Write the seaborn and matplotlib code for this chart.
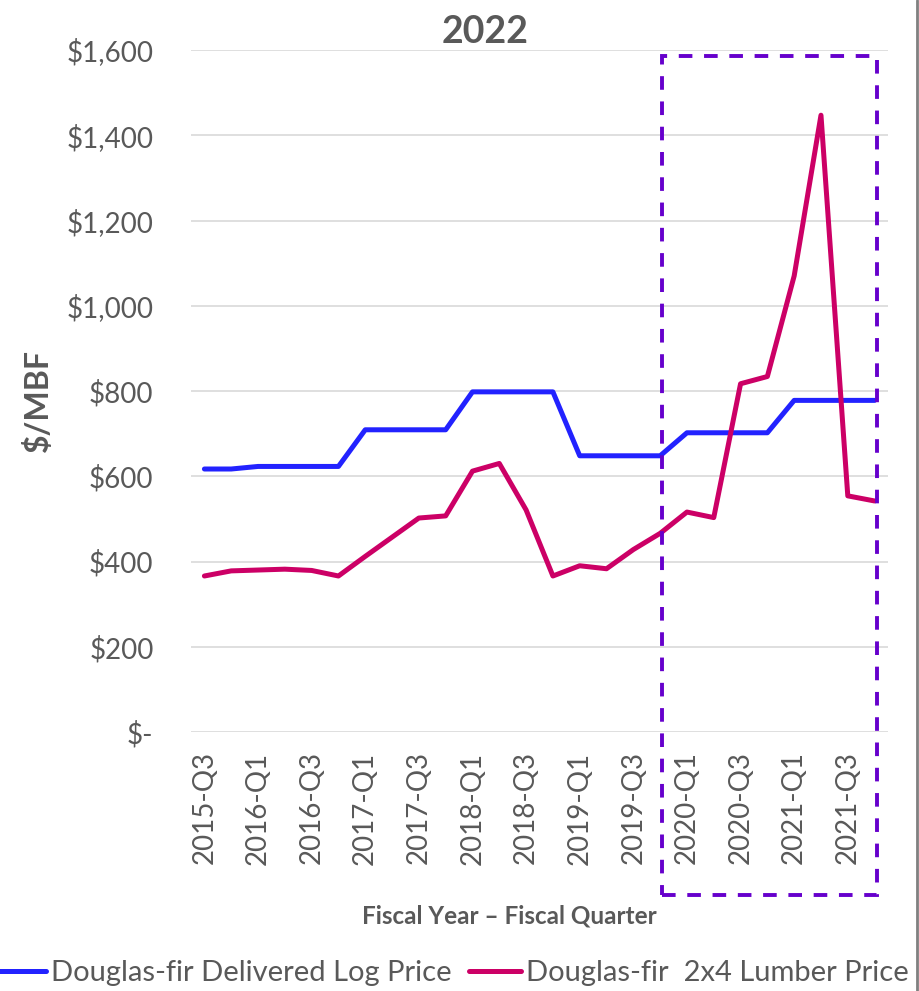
import matplotlib
matplotlib.use("Agg")
import matplotlib.pyplot as plt
import seaborn as sns
import pandas as pd
import numpy as np
from matplotlib.ticker import FuncFormatter
from matplotlib.patches import Rectangle
from matplotlib.lines import Line2D

quarters = ["2015-Q3", "2015-Q4", "2016-Q1", "2016-Q2", "2016-Q3", "2016-Q4",
            "2017-Q1", "2017-Q2", "2017-Q3", "2017-Q4", "2018-Q1", "2018-Q2",
            "2018-Q3", "2018-Q4", "2019-Q1", "2019-Q2", "2019-Q3", "2019-Q4",
            "2020-Q1", "2020-Q2", "2020-Q3", "2020-Q4", "2021-Q1", "2021-Q2",
            "2021-Q3", "2021-Q4"]
log_price = [617, 617, 623, 623, 623, 623, 709, 709, 709, 709, 798, 798, 798, 798,
             648, 648, 648, 648, 702, 702, 702, 702, 778, 778, 778, 778]
lumber_price = [366, 378, 380, 382, 379, 366, 412, 457, 502, 507, 612, 630, 521, 366,
                390, 383, 428, 466, 516, 503, 817, 834, 1070, 1447, 554, 542]
series_names = ["Douglas-fir Delivered Log Price", "Douglas-fir  2x4 Lumber Price"]
colors = ["#2222FF", "#CC0066"]

df = pd.DataFrame({
    "idx": list(range(len(quarters))) * 2,
    "value": log_price + lumber_price,
    "series": [series_names[0]] * len(quarters) + [series_names[1]] * len(quarters),
})

sns.set_theme(style="white")
plt.rcParams['font.family'] = ['Lato', 'DejaVu Sans']
txt = "#595959"

fig = plt.figure(figsize=(9.19, 9.91), dpi=100)
ax = fig.add_axes([191/919, 1-732/991, (888-191)/919, (732-50)/991])

sns.lineplot(data=df, x="idx", y="value", hue="series", palette=colors,
             linewidth=3.6, ax=ax, legend=False, sort=False)

ax.set_ylim(0, 1600)
ax.set_xlim(-0.5, len(quarters) - 0.5)
ax.set_yticks(np.arange(0, 1601, 200))
ax.yaxis.set_major_formatter(FuncFormatter(lambda v, p: "$-" if v == 0 else f"${v:,.0f}"))
ax.set_xticks(range(0, len(quarters), 2))
ax.set_xticklabels(quarters[::2], rotation=90)
ax.tick_params(axis="both", length=0, labelsize=20, colors=txt)
ax.tick_params(axis="y", pad=27)
ax.tick_params(axis="x", pad=14)
ax.grid(axis="y", color="#D9D9D9", linewidth=1.2)
ax.set_axisbelow(True)
for s in ax.spines.values():
    s.set_visible(False)

ax.set_ylabel("$/MBF", fontsize=23, fontweight="bold", color=txt)
ax.yaxis.set_label_coords((53-191)/697, (732-401)/682)
ax.set_xlabel("")
fig.text(509/919, 1-916/991, "Fiscal Year \u2013 Fiscal Quarter", ha="center", va="center",
         fontsize=17.5, fontweight="bold", color=txt)
fig.text(485/919, 1-32/991, "2022", ha="center", va="center",
         fontsize=27, fontweight="bold", color=txt)

# dashed highlight box
rect = Rectangle((662/919, 1-895/991), (877-662)/919, (895-56)/991,
                 transform=fig.transFigure, fill=False, edgecolor="#6600CC",
                 linewidth=2.8, linestyle=(0, (3.5, 3)), zorder=5)
fig.patches.append(rect)

# right border line
fig.add_artist(Line2D([917/919, 917/919], [0, 1], transform=fig.transFigure,
                      color="#808080", linewidth=2))

handles = [Line2D([], [], color=c, linewidth=3.6) for c in colors]
fig.legend(handles, series_names, loc="center", bbox_to_anchor=(451/919, 1-973/991),
           ncol=2, frameon=False, fontsize=21, labelcolor=txt,
           handlelength=1.8, handletextpad=0.17, columnspacing=0.6,
           borderpad=0, borderaxespad=0)

fig.savefig("out.png", dpi=100)
